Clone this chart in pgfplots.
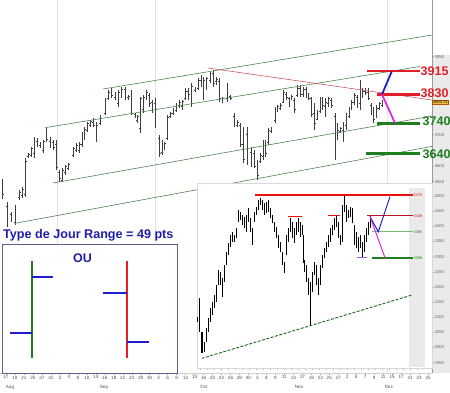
\documentclass[border=0pt]{standalone}
\usepackage{pgfplots}
\pgfplotsset{compat=1.18}
\usepackage{pgfplotstable}
\usepackage{fontspec}
\setmainfont{Liberation Sans}
\definecolor{barc}{RGB}{62,62,62}
\definecolor{chg}{RGB}{80,130,80}
\definecolor{trendred}{RGB}{200,90,110}
\definecolor{lvred}{RGB}{225,30,40}
\definecolor{brightred}{RGB}{235,15,15}
\definecolor{lvgreen}{RGB}{30,125,30}
\definecolor{txtblue}{RGB}{30,30,170}
\definecolor{lineblue}{RGB}{30,30,205}
\definecolor{magent}{RGB}{225,40,225}
\definecolor{stripgray}{RGB}{234,234,234}
\definecolor{boxorange}{RGB}{242,192,66}
\definecolor{boxc}{RGB}{95,95,135}
\definecolor{darkred}{RGB}{190,20,40}
\definecolor{lightgreen}{RGB}{120,190,120}
\definecolor{purp}{RGB}{150,100,200}

\pgfplotstableread{
x h l o c
2.7 3558 3494 3542 3510
7 3485 3405 3470 3420
11 3453 3421 3445 3430
15 3475 3411 3420 3465
19.5 3523 3491 3500 3515
22.5 3533 3497 3505 3525
25.5 3625 3501 3510 3615
28.5 3641 3625 3630 3637
31.5 3661 3629 3635 3655
34.2 3693 3625 3640 3680
37 3689 3661 3680 3668
40 3677 3657 3665 3670
43.3 3683 3641 3650 3678
46.7 3721 3677 3690 3685
50 3693 3657 3680 3665
53.3 3683 3651 3675 3660
56.5 3683 3587 3670 3595
59.5 3587 3549 3580 3560
62.5 3593 3549 3555 3585
65.5 3603 3571 3580 3598
68.5 3609 3587 3592 3605
73.3 3661 3629 3635 3655
76.3 3673 3645 3650 3665
79.3 3677 3641 3650 3670
82 3709 3661 3668 3700
84.7 3725 3683 3690 3718
87.5 3741 3709 3715 3735
90.5 3747 3725 3730 3742
93.3 3753 3725 3740 3730
96.7 3741 3677 3700 3730
100 3763 3731 3735 3758
105 3817 3763 3768 3810
108.3 3843 3811 3815 3835
111.7 3849 3817 3840 3825
115 3837 3811 3820 3830
118.3 3843 3789 3800 3835
121.7 3853 3817 3830 3845
125 3853 3811 3845 3820
128.3 3827 3811 3820 3822
131.7 3843 3763 3835 3770
135 3769 3753 3765 3758
137.5 3763 3737 3745 3758
140.3 3821 3705 3720 3815
143.3 3827 3769 3780 3820
146.7 3843 3811 3820 3835
149.5 3833 3789 3825 3800
152 3811 3769 3805 3775
155 3817 3721 3800 3730
159.3 3699 3629 3690 3640
162 3683 3635 3645 3670
164.7 3677 3651 3660 3672
167.5 3763 3683 3690 3755
170.3 3773 3753 3758 3770
173 3785 3763 3768 3780
176 3801 3773 3778 3795
179.3 3811 3785 3795 3805
182.5 3811 3779 3790 3808
185.5 3849 3811 3815 3840
188.5 3849 3811 3840 3830
191.7 3865 3789 3800 3855
195 3853 3837 3842 3850
198.3 3881 3843 3850 3875
201 3891 3853 3875 3860
203.7 3885 3811 3830 3875
206.7 3885 3843 3870 3880
210 3901 3865 3875 3895
213.3 3907 3853 3895 3865
216.3 3885 3859 3870 3878
219.3 3881 3805 3870 3815
222.7 3821 3801 3810 3815
227 3865 3805 3815 3855
230.5 3827 3811 3822 3815
234 3769 3725 3760 3735
237.5 3747 3725 3730 3740
240.3 3737 3661 3730 3670
243.5 3725 3609 3670 3620
247 3725 3603 3700 3615
251 3661 3597 3645 3605
254.3 3651 3593 3640 3600
257.7 3619 3555 3605 3570
260.5 3641 3609 3615 3635
263 3683 3619 3630 3675
265.7 3683 3629 3670 3640
268.3 3721 3667 3675 3715
271 3725 3705 3710 3720
275 3789 3737 3745 3780
277.7 3795 3773 3780 3790
280.5 3801 3779 3785 3795
283.5 3843 3801 3805 3835
286.3 3837 3811 3830 3820
289 3821 3789 3815 3800
291.7 3827 3811 3815 3822
294.5 3817 3769 3810 3780
297.3 3859 3821 3825 3850
300.3 3859 3821 3850 3830
303.3 3853 3821 3830 3845
306 3853 3817 3845 3825
308.7 3833 3811 3825 3815
311.5 3821 3757 3815 3765
314.3 3801 3715 3770 3735
317 3779 3747 3750 3770
320 3821 3769 3775 3810
322.7 3821 3779 3810 3795
325.5 3817 3757 3790 3805
328.3 3821 3789 3800 3815
331.3 3817 3785 3810 3795
335 3769 3619 3760 3690
337.7 3737 3683 3700 3715
340.3 3725 3705 3710 3720
343 3741 3677 3715 3735
346 3769 3715 3730 3760
349 3789 3753 3760 3782
351.7 3811 3779 3785 3805
354.3 3833 3795 3805 3825
357 3827 3785 3820 3800
360 3875 3779 3800 3840
362.7 3849 3817 3835 3840
365.3 3849 3827 3840 3835
368.3 3849 3811 3835 3815
371 3801 3763 3795 3770
373.7 3789 3737 3770 3750
376.7 3795 3753 3760 3785
379.3 3805 3779 3785 3800
382 3811 3789 3795 3804
}\mainbars

\pgfplotstableread{
x h l
197.5 3102 3085
199.7 3162 3052
202 3052 2981
204.3 3019 2986
206.3 3063 3019
208.3 3096 3052
210.3 3129 3085
212.3 3151 3107
214.3 3173 3129
216.3 3206 3151
218.3 3256 3206
220.3 3250 3206
222.3 3228 3168
224.3 3272 3217
226.3 3316 3272
228.3 3344 3305
230.3 3371 3333
232.3 3382 3349
234.3 3371 3349
236.3 3393 3360
238.3 3454 3415
240.3 3448 3421
242.3 3437 3404
244.3 3432 3393
246.3 3437 3382
248.3 3459 3415
250.3 3426 3382
252.3 3393 3338
254.3 3448 3415
256.3 3465 3437
258.3 3487 3454
260.3 3495 3470
262.3 3487 3454
264.3 3476 3437
266.3 3481 3443
268.3 3487 3448
270.3 3459 3426
272.3 3437 3410
274.3 3415 3382
276.3 3399 3360
278.3 3371 3327
280.3 3349 3316
282.3 3316 3272
284.3 3283 3245
286.3 3371 3305
288.3 3393 3349
290.3 3426 3382
292.3 3415 3360
294.3 3393 3344
296.3 3415 3371
298.3 3426 3382
300.3 3415 3366
302.3 3404 3371
303.3 3371 3280
304.3 3289 3250
306.3 3272 3217
308.3 3228 3173
310.3 3217 3074
312.3 3250 3184
314.3 3283 3239
316.3 3272 3206
318.3 3228 3173
320.3 3272 3206
322.3 3305 3261
324.3 3327 3294
326.3 3349 3316
328.3 3371 3333
330.3 3393 3349
332.3 3404 3371
334.3 3426 3388
336.3 3437 3399
338.3 3415 3360
340.3 3371 3338
342.3 3470 3349
344.3 3503 3448
346.3 3470 3415
348.3 3454 3426
350.3 3465 3432
352.3 3459 3410
354.3 3404 3338
356.3 3382 3327
358.3 3366 3316
360.3 3371 3327
362.3 3349 3300
364.3 3371 3316
366.3 3393 3349
368.3 3415 3371
370.3 3437 3393
}\insetbars

\begin{document}
\begin{tikzpicture}
\path (0pt,0pt) rectangle (450pt,392pt);
\fill[stripgray] (432pt,19pt) rectangle (450pt,337pt);
% ---------------- main chart ----------------
\begin{axis}[
  at={(0pt,19pt)}, anchor=south west,
  width=432pt, height=373pt, scale only axis,
  xmin=0, xmax=432, ymin=2937.4, ymax=4131,
  clip=false,
  axis x line*=bottom, axis y line*=right,
  x axis line style={draw=gray!35, line width=0.4pt},
  y axis line style={draw=gray!80, line width=0.6pt},
  tick align=outside, major tick length=1.6pt,
  xtick={6,14.98,...,428.1},
  xticklabels={17,19,21,25,27,31,2,4,8,10,14,16,18,22,24,28,30,2,6,8,12,14,16,20,22,26,28,30,3,8,9,11,13,17,19,23,25,27,1,5,7,9,11,15,17,21,23,25},
  x tick label style={font=\fontsize{4.6}{5}\selectfont, text=black!70, inner sep=1pt},
  xtick style={draw=gray!70, line width=0.4pt},
  ytick={3550,3600,3700,3950},
  y tick label style={font=\fontsize{4.2}{5}\selectfont, text=black!60, inner sep=1pt},
  ytick style={draw=gray!70, line width=0.4pt},
  /pgf/number format/assume math mode=true,
  /pgf/number format/1000 sep={},
  extra x ticks={57,155,387},
  extra x tick labels={},
  extra x tick style={grid=major, major grid style={draw=gray!22, line width=0.5pt}, major tick length=0pt},
]
\addplot[barc, line width=0.7pt, quiver={u=0, v=\thisrow{h}-\thisrow{l}}] table[x=x, y=l] {\mainbars};
\addplot[barc, line width=0.55pt, quiver={u=-1.2, v=0}] table[x=x, y=o] {\mainbars};
\addplot[barc, line width=0.55pt, quiver={u=1.2, v=0}] table[x=x, y=c] {\mainbars};
% channels
\addplot[chg, line width=0.6pt] coordinates {(103,3846.2) (432,4019)};
\addplot[chg, line width=0.6pt] coordinates {(45,3722.4) (420,3918.2)};
\addplot[chg, line width=0.6pt] coordinates {(53,3545.4) (432,3759.8)};
\addplot[chg, line width=0.6pt] coordinates {(15,3416.4) (432,3662.5)};
\addplot[trendred, line width=0.6pt] coordinates {(208,3913.4) (432,3811)};
% levels
\addplot[lvred, line width=2.6pt] coordinates {(367,3904) (420,3904)};
\addplot[lvred, line width=2.6pt] coordinates {(377,3829) (420,3829)};
\addplot[lvgreen, line width=2.6pt] coordinates {(377,3736) (420,3736)};
\addplot[lvgreen, line width=2.6pt] coordinates {(366,3639) (420,3639)};
\addplot[lineblue, line width=1.8pt] coordinates {(382,3829) (391.7,3902)};
\addplot[magent, line width=1.8pt] coordinates {(382,3829) (395,3737)};
\node[anchor=west, inner sep=0, text=lvred, font=\bfseries\fontsize{12.5}{13}\selectfont] at (axis cs:420.5,3904) {3915};
\node[anchor=west, inner sep=0, text=lvred, font=\bfseries\fontsize{12.5}{13}\selectfont] at (axis cs:420.5,3833) {3830};
\node[anchor=west, inner sep=0, text=lvgreen, font=\bfseries\fontsize{12.5}{13}\selectfont] at (axis cs:422.5,3742) {3740};
\node[anchor=west, inner sep=0, text=lvgreen, font=\bfseries\fontsize{12.5}{13}\selectfont] at (axis cs:422.5,3639) {3640};
\node[anchor=west, fill=boxorange, draw=orange!70!black, line width=0.3pt, inner sep=0.7pt, font=\fontsize{4}{4.5}\selectfont] at (axis cs:432.3,3803.7) {3803.72};
\foreach \mx/\mn in {10/Aug,104/Sep,204/Oct,299/Nov,389/Dec}{
  \edef\tmp{\noexpand\node[font=\noexpand\fontsize{4.6}{5}\noexpand\selectfont, text=black!70, inner sep=0] at (axis cs:\mx,2937.4) [yshift=-14pt] {\mn};}\tmp
}
\end{axis}
% ---------------- inset chart ----------------
\begin{axis}[
  at={(197pt,24pt)}, anchor=south west,
  width=235pt, height=185pt, scale only axis,
  xmin=197, xmax=432, ymin=2932.4, ymax=3542.9,
  axis background/.style={fill=white},
  axis line style={draw=gray!30, line width=0.5pt},
  clip=false,
  xtick pos=bottom, ytick pos=right,
  tick align=outside, major tick length=1.5pt,
  xtick={200,207,...,420}, xticklabels={},
  xtick style={draw=gray!60, line width=0.4pt},
  ytick={2950,3000,...,3500},
  yticklabel pos=right,
  y tick label style={font=\fontsize{4.2}{5}\selectfont, text=black!60, inner sep=1pt},
  ytick style={draw=gray!70, line width=0.4pt},
  /pgf/number format/assume math mode=true,
  /pgf/number format/1000 sep={},
]
\fill[stripgray] (axis cs:409,3526.4) rectangle (axis cs:425,2935.7);
\addplot[black, line width=1.3pt, quiver={u=0, v=\thisrow{h}-\thisrow{l}}] table[x=x, y=l] {\insetbars};
\addplot[brightred, line width=1.4pt] coordinates {(255,3503) (413,3503)};
\addplot[brightred, line width=1.1pt] coordinates {(288,3432) (302,3432)};
\addplot[brightred, line width=1.1pt] coordinates {(328,3437) (340,3437)};
\addplot[darkred, line width=1.3pt] coordinates {(367,3435) (413,3435)};
\addplot[lightgreen, line width=0.6pt] coordinates {(372,3382) (413,3382)};
\addplot[lvgreen, line width=2pt] coordinates {(372,3294) (413,3294)};
\addplot[purp, line width=0.6pt] coordinates {(357,3296.5) (367,3296.5)};
\addplot[lineblue, line width=1pt] coordinates {(370,3432) (378.3,3382) (390,3498)};
\addplot[magent, line width=1pt] coordinates {(370,3432) (385,3296)};
\addplot[lvgreen!85!black, line width=0.9pt, dash pattern=on 3pt off 1.5pt] coordinates {(201.7,2964) (411.7,3173)};
\node[anchor=west, inner sep=0, text=brightred, font=\fontsize{3.8}{4}\selectfont] at (axis cs:413.5,3503) {3475};
\node[anchor=west, inner sep=0, text=darkred, font=\fontsize{3.8}{4}\selectfont] at (axis cs:413.5,3435) {3438};
\node[anchor=west, inner sep=0, text=lvgreen, font=\fontsize{3.8}{4}\selectfont] at (axis cs:413.5,3382) {3385};
\node[anchor=west, inner sep=0, text=lvgreen, font=\fontsize{3.8}{4}\selectfont] at (axis cs:413.5,3294) {3296};
\end{axis}
% ---------------- left explanatory box ----------------
\begin{axis}[
  at={(2pt,19pt)}, anchor=south west,
  width=175pt, height=129pt, scale only axis,
  xmin=2, xmax=177, ymin=-373, ymax=-244,
  axis background/.style={fill=white},
  axis line style={draw=boxc, line width=0.8pt},
  ticks=none, clip=false,
]
\addplot[lvgreen, line width=2.2pt] coordinates {(32,-261) (32,-358)};
\addplot[lineblue, line width=2pt] coordinates {(32,-277) (53,-277)};
\addplot[lineblue, line width=2pt] coordinates {(10,-333) (32,-333)};
\addplot[lvred, line width=2.2pt] coordinates {(127,-261) (127,-358)};
\addplot[lineblue, line width=2pt] coordinates {(103,-293) (127,-293)};
\addplot[lineblue, line width=2pt] coordinates {(127,-342) (149,-342)};
\node[anchor=base, inner sep=0, text=txtblue, font=\bfseries\fontsize{12.5}{14}\selectfont] at (axis cs:82.5,-262) {OU};
\end{axis}
\node[anchor=base west, inner sep=0, text=txtblue, font=\bfseries\fontsize{12.6}{14}\selectfont] at (3pt,154pt) {Type de Jour Range = 49 pts};
\pgfresetboundingbox
\useasboundingbox (0pt,0pt) rectangle (450pt,392pt);
\end{tikzpicture}
\end{document}
